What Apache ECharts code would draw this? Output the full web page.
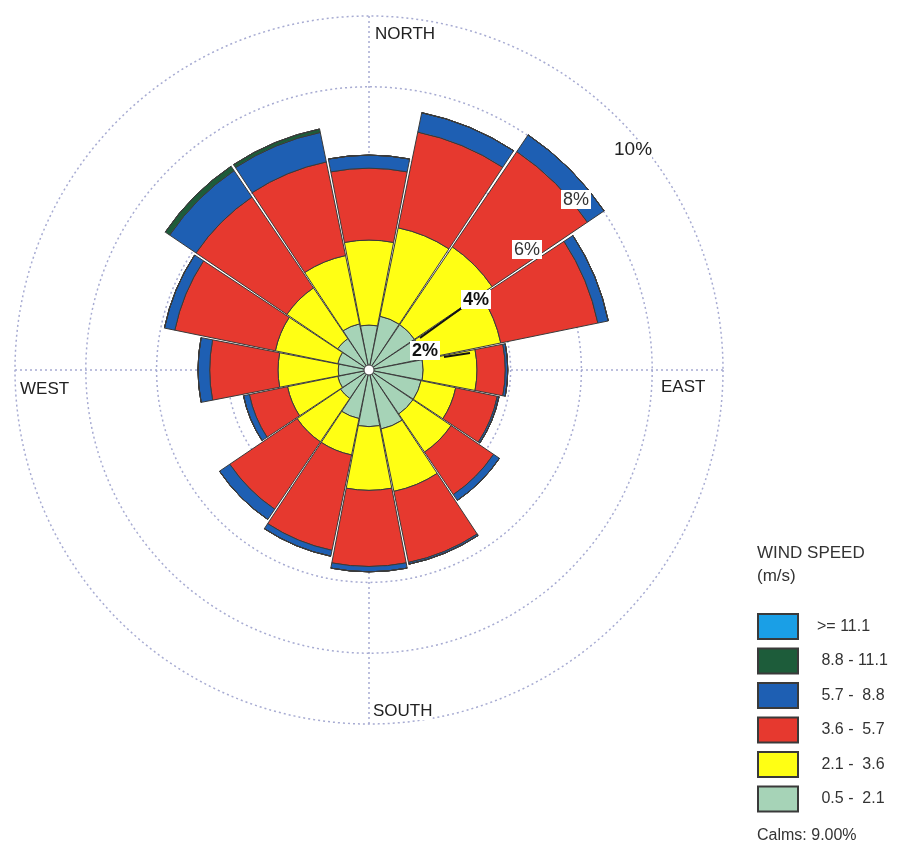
<!DOCTYPE html>
<html><head><meta charset="utf-8">
<script src="https://cdn.jsdelivr.net/npm/echarts@6/dist/echarts.min.js"></script>
<style>html,body{margin:0;padding:0;background:#fff}#c{width:906px;height:847px}</style>
</head><body><div id="c"></div>
<script>
// Wind directions (petals, clockwise from north)
const directions = ['N','NNE','NE','ENE','E','ESE','SE','SSE','S','SSW','SW','WSW','W','WNW','NW','NNW'];
// Frequency (%) of each wind speed class per direction (stacked outward)
const speed_05_21  = [1.27,1.55,1.55,1.55,1.53,1.50,1.50,1.70,1.60,1.40,0.97,0.90,0.87,0.90,1.07,1.33];
const speed_21_36  = [2.40,2.55,2.65,2.25,1.52,1.00,1.30,1.80,1.80,1.05,1.48,1.45,1.70,1.80,1.73,1.97];
const speed_36_57  = [2.03,2.76,3.25,2.80,0.80,1.20,1.45,2.05,2.15,2.75,2.30,1.10,1.93,2.90,3.10,2.70];
const speed_57_88  = [0.37,0.56,0.57,0.30,0.07,0.05,0.20,0.05,0.15,0.17,0.35,0.17,0.33,0.30,0.90,0.85];
const speed_88_111 = [0,0,0,0,0,0,0,0,0,0,0,0,0,0,0.15,0.10];
const speed_111    = [0,0,0,0,0,0,0,0,0,0,0,0,0,0,0,0];
// Legend / class labels
const classNames = ['0.5 - 2.1','2.1 - 3.6','3.6 - 5.7','5.7 - 8.8','8.8 - 11.1','>= 11.1'];
const classLegendText = [' 0.5 -  2.1',' 2.1 -  3.6',' 3.6 -  5.7',' 5.7 -  8.8',' 8.8 - 11.1','>= 11.1'];
const classColors = ['#a6d3b7','#ffff14','#e6392f','#1e5fb3','#1d5c3a','#1a9fe6'];
const radiusTicks = [2,4,6,8,10];
const calms = '9.00%';

const seriesData = [speed_05_21, speed_21_36, speed_36_57, speed_57_88, speed_88_111, speed_111];
const FONT = 'Liberation Sans';
const center = [369, 370];
const R = 354;

const chart = echarts.init(document.getElementById('c'), null, {renderer: 'canvas'});
const dotted = {color: '#a7abd2', width: 1.5, type: [2, 3]};

const series = classNames.map((n, i) => ({
  name: n,
  type: 'bar',
  coordinateSystem: 'polar',
  polarIndex: 0,
  stack: 'wind',
  data: seriesData[i],
  barCategoryGap: '3%',
  itemStyle: {color: classColors[i], borderColor: '#3a3a3a', borderWidth: 1},
  emphasis: {disabled: true},
  silent: true,
  z: 5
}));

const pctLabel = (txt, left, top, bold) => ({
  type: 'text', left: left, top: top, z: 100,
  style: {text: txt, font: (bold ? 'bold ' : '') + '18px "' + FONT + '"', fill: bold ? '#111' : '#333',
          backgroundColor: '#fff', padding: [1, 2, 0, 2]}
});

const option = {
  backgroundColor: '#fff',
  animation: false,
  polar: [
    {center: center, radius: [0, R]},
    {center: center, radius: [0, R]}
  ],
  angleAxis: [
    {polarIndex: 0, type: 'category', data: directions, startAngle: 90 + 11.25, clockwise: true,
     boundaryGap: true, axisLine: {show: false}, axisTick: {show: false}, axisLabel: {show: false},
     splitLine: {show: false}},
    {polarIndex: 1, type: 'value', min: 0, max: 360, interval: 90, startAngle: 90,
     axisLine: {show: false}, axisTick: {show: false}, axisLabel: {show: false},
     splitLine: {show: true, lineStyle: dotted}}
  ],
  radiusAxis: [
    {polarIndex: 0, type: 'value', min: 0, max: 10, interval: 2,
     axisLine: {show: false}, axisTick: {show: false}, axisLabel: {show: false},
     splitLine: {show: true, lineStyle: dotted}},
    {polarIndex: 1, type: 'value', min: 0, max: 10, show: false}
  ],
  legend: {
    orient: 'vertical', left: 752, top: 608,
    itemWidth: 40, itemHeight: 25, itemGap: 7.5, icon: 'rect',
    selectedMode: false,
    data: classNames.slice().reverse(),
    formatter: name => classLegendText[classNames.indexOf(name)],
    textStyle: {fontSize: 16, color: '#333', fontFamily: FONT, padding: [0, 0, 0, 14]}
  },
  series: series,
  graphic: [
    {type: 'circle', shape: {cx: center[0], cy: center[1], r: 5}, z: 100,
     style: {fill: '#fff', stroke: '#444', lineWidth: 1}},
    {type: 'text', left: 375, top: 26, z: 100, style: {text: 'NORTH', font: '17px "' + FONT + '"', fill: '#222', backgroundColor: '#fff'}},
    {type: 'text', left: 661, top: 379, z: 100, style: {text: 'EAST', font: '17px "' + FONT + '"', fill: '#222'}},
    {type: 'text', left: 373, top: 703, z: 100, style: {text: 'SOUTH', font: '17px "' + FONT + '"', fill: '#222', backgroundColor: '#fff'}},
    {type: 'text', left: 20, top: 381, z: 100, style: {text: 'WEST', font: '17px "' + FONT + '"', fill: '#222'}},
    {type: 'text', left: 614, top: 140, z: 100, style: {text: radiusTicks[4] + '%', font: '19px "' + FONT + '"', fill: '#222', backgroundColor: '#fff'}},
    pctLabel(radiusTicks[3] + '%', 561, 190, false),
    pctLabel(radiusTicks[2] + '%', 512, 240, false),
    pctLabel(radiusTicks[1] + '%', 461, 290, true),
    pctLabel(radiusTicks[0] + '%', 410, 341, true),
    {type: 'line', z: 99, shape: {x1: 463, y1: 307, x2: 420, y2: 338}, style: {stroke: '#111', lineWidth: 2}},
    {type: 'line', z: 99, shape: {x1: 444, y1: 357, x2: 470, y2: 353}, style: {stroke: '#111', lineWidth: 2}},
    {type: 'text', left: 757, top: 545, z: 100, style: {text: 'WIND SPEED', font: '17px "' + FONT + '"', fill: '#333'}},
    {type: 'text', left: 757, top: 568, z: 100, style: {text: '(m/s)', font: '17px "' + FONT + '"', fill: '#333'}},
    {type: 'text', left: 757, top: 828, z: 100, style: {text: 'Calms: ' + calms, font: '16px "' + FONT + '"', fill: '#333'}}
  ]
};
chart.setOption(option);
</script>
</body></html>
